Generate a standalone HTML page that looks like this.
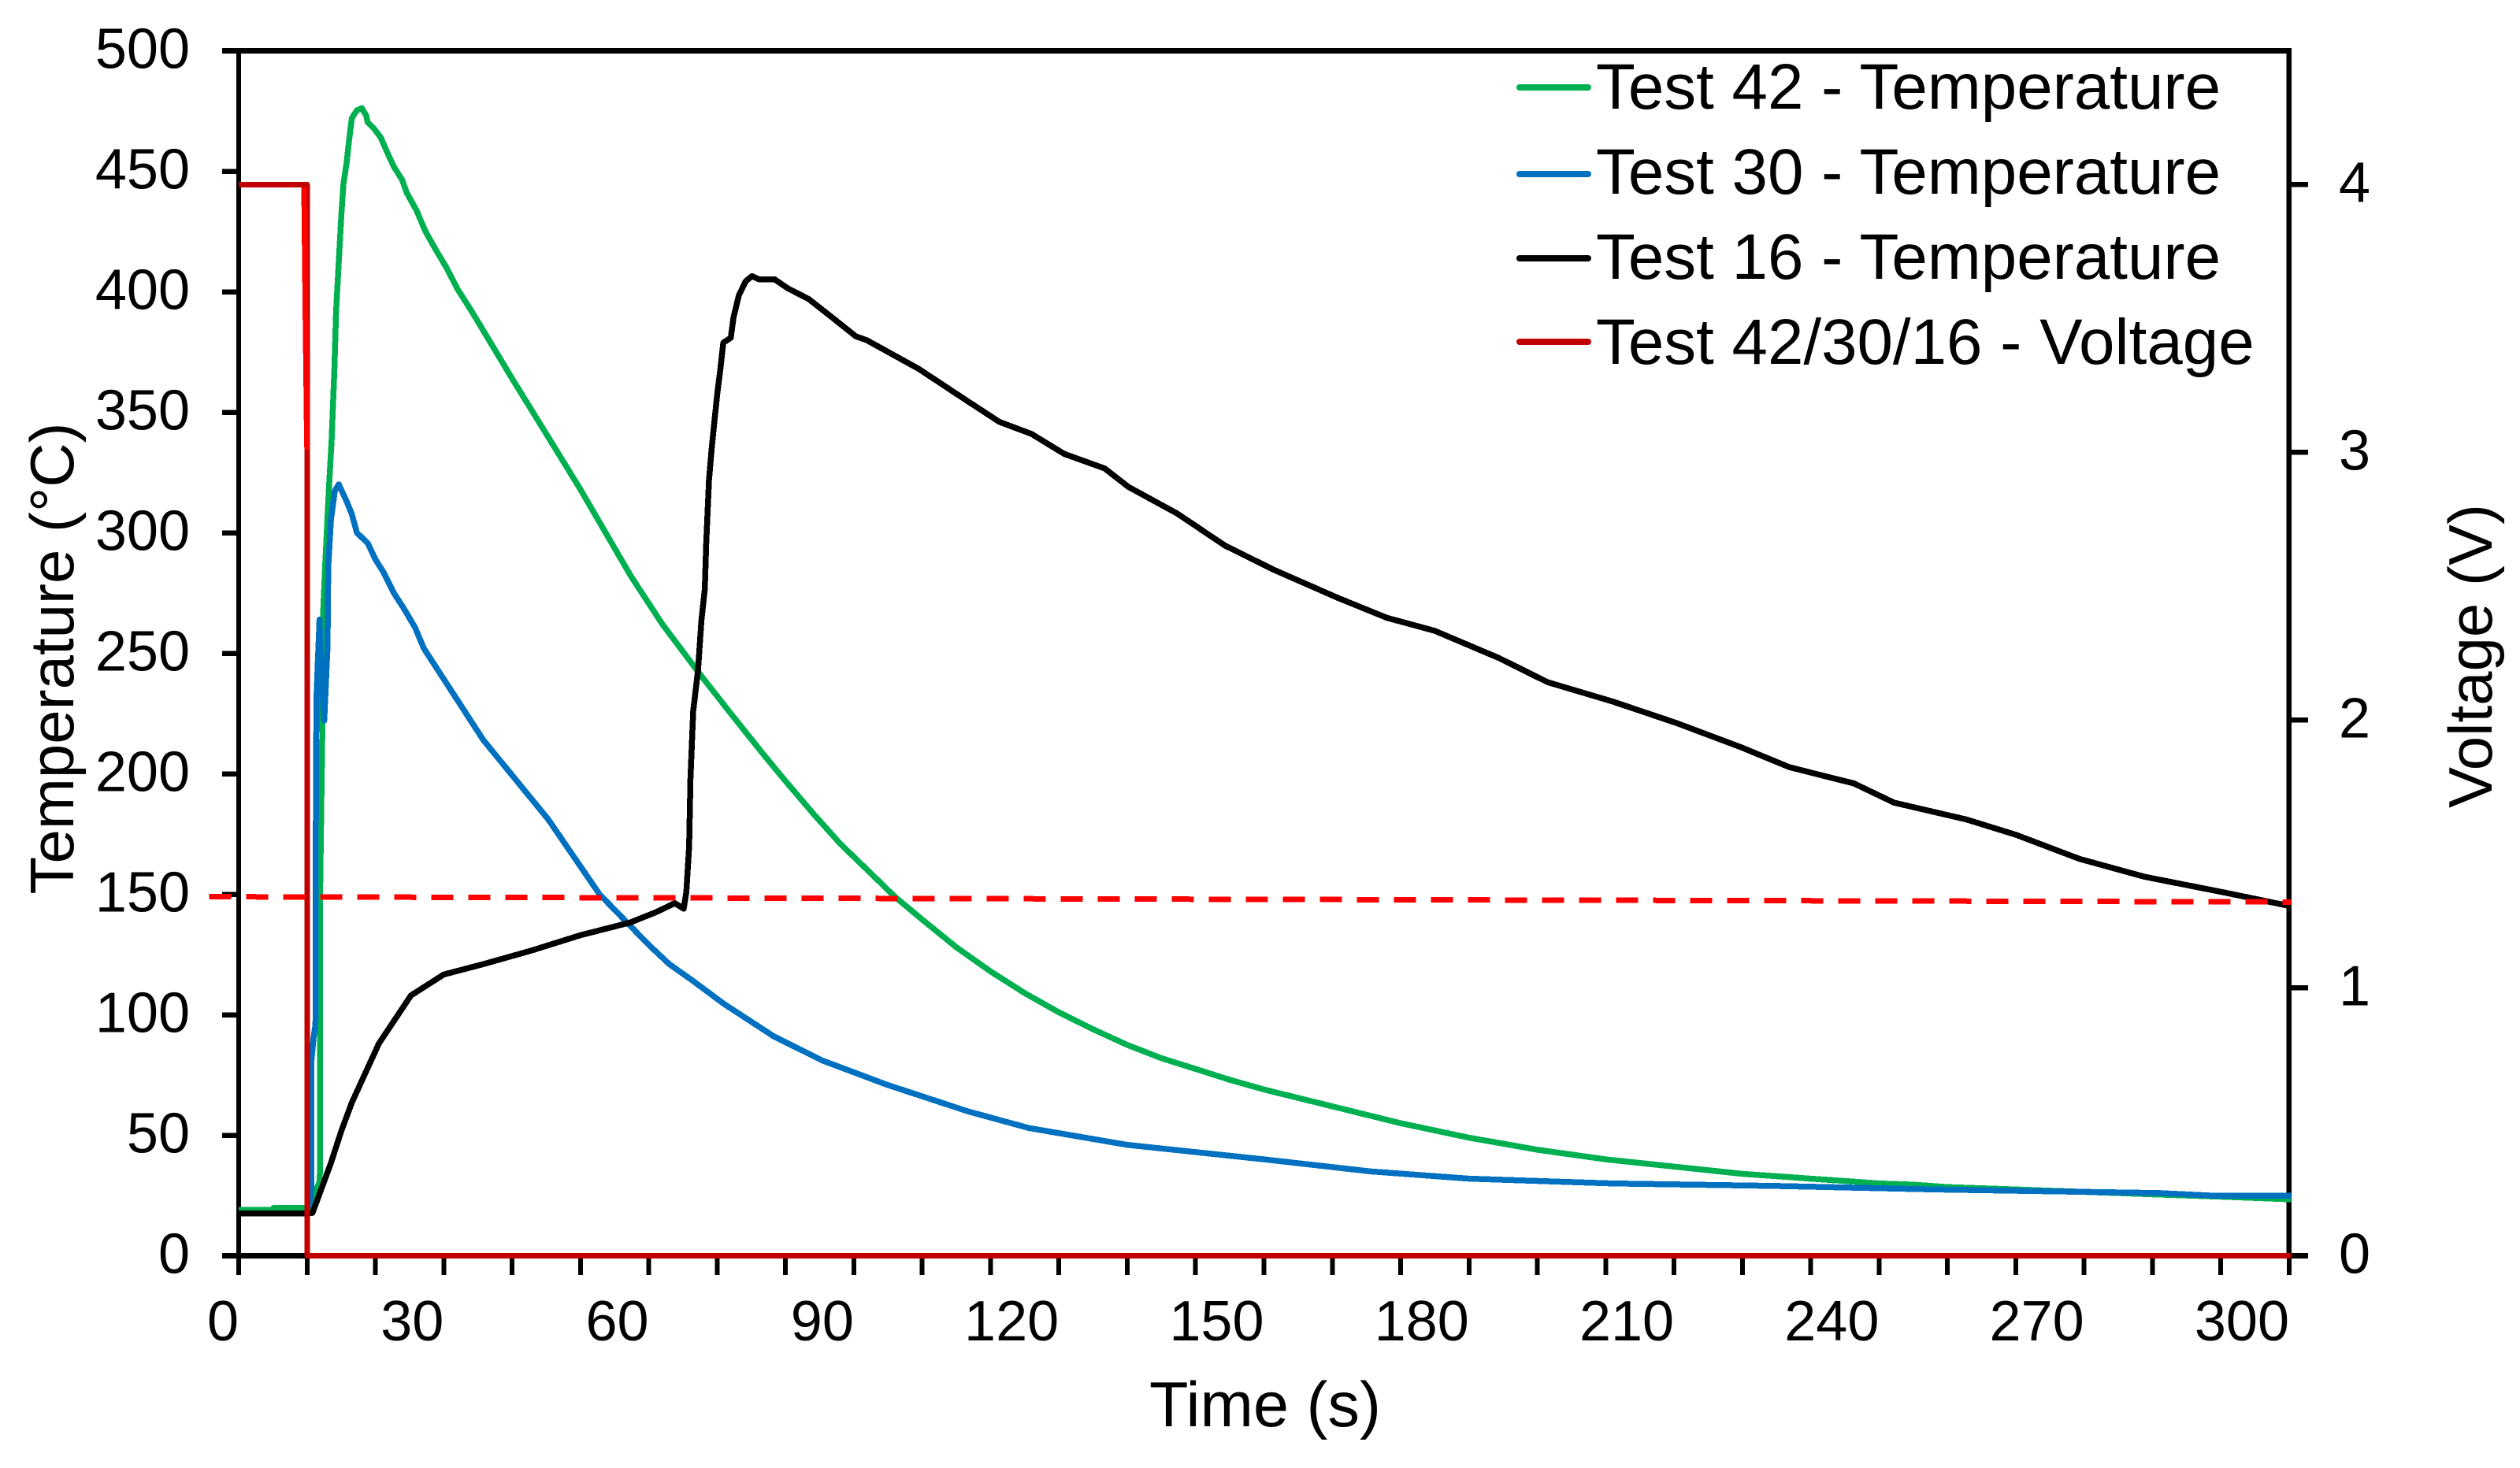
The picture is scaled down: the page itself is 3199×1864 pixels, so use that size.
<!DOCTYPE html>
<html lang="en">
<head>
<meta charset="utf-8">
<title>Temperature and voltage vs time</title>
<style>
html,body{margin:0;padding:0;background:#fff;}
svg{display:block;}
text{font-family:"Liberation Sans",Arial,sans-serif;fill:#000;}
.tick{font-size:72px;}
.title-x{font-size:81px;}
.title-y{font-size:78px;}
.leg{font-size:81.7px;}
</style>
</head>
<body>
<svg id="chart" xmlns="http://www.w3.org/2000/svg" width="3199" height="1864" viewBox="0 0 3199 1864">
  <rect x="0" y="0" width="3199" height="1864" fill="#fff"/>
  <g id="axes"></g>
  <g id="series"></g>
  <g id="tick-labels"></g>
  <text class="title-x" x="1606" y="1811" text-anchor="middle">Time (s)</text>
  <text class="title-y" transform="translate(93,836) rotate(-90)" text-anchor="middle">Temperature (°C)</text>
  <text class="title-y" transform="translate(3163,833) rotate(-90)" text-anchor="middle">Voltage (V)</text>
  <g>
    <line x1="1929" x2="2016" y1="111" y2="111" stroke="#00B050" stroke-width="8" stroke-linecap="round"/>
    <text class="leg" x="2026" y="138">Test 42 - Temperature</text>
    <line x1="1929" x2="2016" y1="221" y2="221" stroke="#0070C0" stroke-width="8" stroke-linecap="round"/>
    <text class="leg" x="2026" y="246">Test 30 - Temperature</text>
    <line x1="1929" x2="2016" y1="328" y2="328" stroke="#000000" stroke-width="8" stroke-linecap="round"/>
    <text class="leg" x="2026" y="354">Test 16 - Temperature</text>
    <line x1="1929" x2="2016" y1="434" y2="434" stroke="#C00000" stroke-width="8" stroke-linecap="round"/>
    <text class="leg" x="2026" y="462">Test 42/30/16 - Voltage</text>
  </g>
</svg>
<script>
// ---- tick labels ----
var xTickLabels = [0,30,60,90,120,150,180,210,240,270,300];
var xMinorTicks = [0,10,20,30,40,50,60,70,80,90,100,110,120,130,140,150,160,170,180,190,200,210,220,230,240,250,260,270,280,290,300];
var tempTickLabels = [0,50,100,150,200,250,300,350,400,450,500];
var voltTickLabels = [0,1,2,3,4];

// ---- Test 42 temperature ----
var test42Time = [0,5,5.1,10.2,10.8,11.4,11.87,11.9,12.25,12.33,12.64,13.17,13.6,14,14.25,14.64,15.02,15.33,15.79,16.17,16.56,17.3,18,18.67,18.86,19.8,20.8,21.9,22.7,23.9,24.6,26,27.3,28.8,30.4,32,34.2,40,45,50,57.3,62,67.3,72,76.5,80,84.2,88,92,96,100,105,110,115,120,125,130,135,140,145,150,155,160,165,170,175,180,185,190,195,200,205,210,215,220,225,230,235,240,245,250,255,260,265,270,275,280,285,290,295,300.3];
var test42Temp = [19,19,19.8,19.8,21,27.6,31,150,221,265,285.8,316.8,338.7,367.8,391.4,412.1,431.8,444.8,453.5,463.3,472.1,475.3,476.2,473.1,470.4,467.7,463.9,456.8,451.9,446.5,441,433.9,425.2,417.6,410,401.2,391.4,364,341,318,282.4,262,242,225,209,197,183,171,160,149,139.5,128,118,109,101,94,87.5,82,77.5,73,69,65.5,62,58.5,55,52,49,46.5,44,42,40,38.5,37,35.5,34,33,32,31,30,29.5,28.5,28,27.5,27,26.5,26,25.5,25,24.5,24,23.4];

// ---- Test 30 temperature ----
var test30Time = [10.2,10.6,10.65,10.95,11.24,11.3,11.37,11.83,12.1,12.52,13,13.1,13.5,14.06,14.64,15.8,16.56,17.3,18.9,20,21.2,22.7,24.2,25.8,27.1,35.8,45.3,52.8,60,63,66.5,71,78.3,85.4,94.8,106.6,115.6,130,150,165.6,180,201,224.5,248,281,289,300.3];
var test30Temp = [20,25,81,90.4,96,180,231.3,264,240,222,253,285.8,305.4,317.4,320.1,313,307.6,300,295.6,289,283.6,275,268.4,260.7,252,214,181,150,129,121,114,104.5,91,81,71,60,53,46,40,35,32,30,29,27.5,26,24.9,24.9];

// ---- Test 16 temperature ----
var test16Time = [0,10.2,10.8,11.95,13.5,15,16.56,20.5,25.2,30,35.8,42.9,50,57.3,61.1,63.8,65.1,65.5,65.9,66.1,66.5,67.2,67.7,68.2,68.4,68.8,69.2,69.6,70,70.5,70.9,72,72.4,73.2,74.2,75.1,76.1,78.4,80.3,83.4,86.4,90.3,91.9,99.5,106.6,111.3,116,120.8,126.7,130.2,137.3,144.3,151.4,160.8,168,175,184.4,191.5,201,210.4,219.8,226.9,236.3,242.2,252.8,260,269.3,278.8,290.6,300.3];
var test16Temp = [17.6,17.6,17.8,26.6,38.5,51.6,63.6,88,108,116.7,121,126.7,133,138.3,142.6,146.3,144,151,169.7,197.9,226,243,263.6,276.7,295.6,321.7,334.8,346.2,357.3,368.6,378.9,380.9,389.4,398.7,404.4,406.5,405.2,405.2,401.5,397,390.3,381.5,379.9,368,354.7,346,341,332.7,326.7,319,308,294.7,284.7,273,264.7,259.3,248,238,230,221,211,202.7,196,188,181,174.7,164.7,157.3,150.7,145];

// ---- Voltage ----
var voltageTime = [0,10,10,300.3];
var voltageValues = [4,4,0,0];
var voltageDropTime = [9.57,9.76,9.95,10];
var voltageDropValues = [3.99,3.51,3.11,3.01];

// ---- Dashed threshold ----
var thresholdTime = [-4.3,300.3];
var thresholdTemp = [149,146.8];

// ---- axis functions ----
var NS = 'http://www.w3.org/2000/svg';
function xScale(t){ return 303 + t * (2906 - 303) / 300; }
function yTemp(v){ return 1594.5 - v * (1594.5 - 64.5) / 500; }
function yVolt(v){ return 1594.5 - v * (1594.5 - 234.3) / 4; }

var axesG = document.getElementById('axes');
var seriesG = document.getElementById('series');
var labelsG = document.getElementById('tick-labels');

function addRule(x1, y1, x2, y2, w, name){
  var el = document.createElementNS(NS, 'line');
  el.setAttribute('x1', x1);
  el.setAttribute('y1', y1);
  el.setAttribute('x2', x2);
  el.setAttribute('y2', y2);
  el.setAttribute('stroke', '#000');
  el.setAttribute('stroke-width', w);
  el.setAttribute('shape-rendering', 'crispEdges');
  
  
  axesG.appendChild(el);
}
function addLabel(x, y, str, anchor, name){
  var el = document.createElementNS(NS, 'text');
  el.setAttribute('x', x);
  el.setAttribute('y', y);
  el.setAttribute('class', 'tick');
  el.setAttribute('text-anchor', anchor);
  
  
  el.textContent = str;
  labelsG.appendChild(el);
}
function addSeries(times, values, yFn, color, width, name, dash){
  var pts = [];
  for (var i = 0; i < times.length; i++) {
    pts.push(xScale(times[i]).toFixed(1) + ',' + yFn(values[i]).toFixed(1));
  }
  var el = document.createElementNS(NS, 'polyline');
  el.setAttribute('points', pts.join(' '));
  el.setAttribute('fill', 'none');
  el.setAttribute('stroke', color);
  el.setAttribute('stroke-width', width);
  el.setAttribute('stroke-linejoin', 'round');
  el.setAttribute('shape-rendering', 'crispEdges');
  if (dash) { el.setAttribute('stroke-dasharray', dash); }
  
  
  seriesG.appendChild(el);
}

// frame
addRule(303, 61, 303, 1598, 6, 'left-axis-line');
addRule(2905.5, 61, 2905.5, 1598, 6.5, 'right-axis-line');
addRule(282, 64.5, 2908, 64.5, 7, 'top-axis-line');
addRule(282, 1594.5, 2930, 1594.5, 7, 'bottom-axis-line');

// ticks + labels
xMinorTicks.forEach(function(t){
  addRule(xScale(t), 1594, xScale(t), 1619, 6, 'x-tick');
});
tempTickLabels.forEach(function(v){
  addRule(282, yTemp(v), 303, yTemp(v), 6.5, 'temperature-tick');
  addLabel(241, yTemp(v) + 22, String(v), 'end', 'temperature-tick-label');
});
voltTickLabels.forEach(function(v){
  addRule(2905, yVolt(v), 2930, yVolt(v), 6.5, 'voltage-tick');
  addLabel(2969, yVolt(v) + 22, String(v), 'start', 'voltage-tick-label');
});
xTickLabels.forEach(function(t){
  addLabel(xScale(t), 1702, String(t), 'end', 'x-tick-label');
});

// series, in legend stacking order
addSeries(test42Time, test42Temp, yTemp, '#00B050', 7.5, 'series-test-42-temperature');
addSeries(test30Time, test30Temp, yTemp, '#0070C0', 7.5, 'series-test-30-temperature');
addSeries(test16Time, test16Temp, yTemp, '#000000', 7.5, 'series-test-16-temperature');
addSeries(voltageTime, voltageValues, yVolt, '#C00000', 7, 'series-voltage');
addSeries(voltageDropTime, voltageDropValues, yVolt, '#FF0000', 7, 'series-voltage-drop');
addSeries(thresholdTime, thresholdTemp, yTemp, '#FF0000', 7, 'threshold-dashed-line', '28 19');
</script>
</body>
</html>
